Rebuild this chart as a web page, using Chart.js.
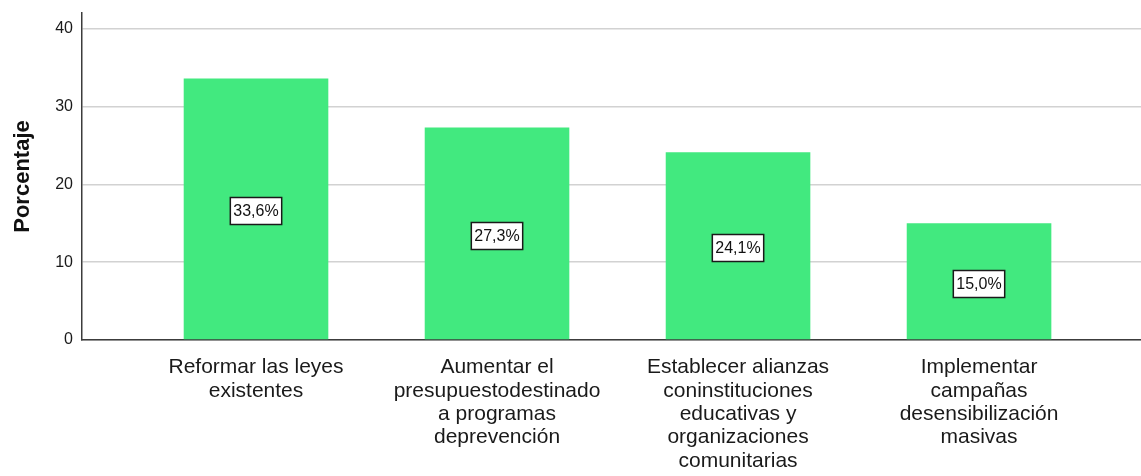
<!DOCTYPE html>
<html>
<head>
<meta charset="utf-8">
<script src="https://cdn.jsdelivr.net/npm/chart.js@4/dist/chart.umd.min.js"></script>
<style>
  html, body { margin:0; padding:0; background:#ffffff; }
  #wrap { width:1141px; height:476px; }
</style>
</head>
<body>
<div id="wrap"><canvas id="barChart" width="1141" height="476"></canvas></div>
<script>
/* ===========================
   DATA
=========================== */

const categories = [
    "Reformar las leyes existentes",
    "Aumentar el presupuestodestinado a programas deprevención",
    "Establecer alianzas coninstituciones educativas y organizaciones comunitarias",
    "Implementar campañas desensibilización masivas"
];

const tickLines = [
    ["Reformar las leyes", "existentes"],
    ["Aumentar el", "presupuestodestinado", "a programas", "deprevención"],
    ["Establecer alianzas", "coninstituciones", "educativas y", "organizaciones", "comunitarias"],
    ["Implementar", "campañas", "desensibilización", "masivas"]
];

const percentages = [33.6, 27.3, 24.1, 15.0];

const yTicks = [0, 10, 20, 30, 40];

/* ===========================
   LABEL BOXES
=========================== */

const boxLabels = {
    id: "boxLabels",
    afterDatasetsDraw(chart){
        const ctx = chart.ctx;
        const meta = chart.getDatasetMeta(0);
        const yScale = chart.scales.y;
        ctx.save();
        ctx.font = "16px Arial, 'Liberation Sans', sans-serif";
        ctx.textAlign = "center";
        ctx.textBaseline = "middle";
        meta.data.forEach((bar, i) => {
            const v = percentages[i];
            const text = v.toFixed(1).replace(".", ",") + "%";
            const w = ctx.measureText(text).width + 6;
            const h = 27;
            const cx = Math.round(bar.x);
            const cy = Math.round(yScale.getPixelForValue(v / 2)) + 2;
            ctx.fillStyle = "#ffffff";
            ctx.fillRect(cx - w / 2, cy - h / 2, w, h);
            ctx.strokeStyle = "#1a1a1a";
            ctx.lineWidth = 1.5;
            ctx.strokeRect(cx - w / 2, cy - h / 2, w, h);
            ctx.fillStyle = "#111111";
            ctx.fillText(text, cx, cy + 1);
        });
        ctx.restore();
    }
};

/* ===========================
   CHART
=========================== */

new Chart(
    document.getElementById("barChart"),
    {
        type: "bar",
        data: {
            datasets: [{
                label: "Porcentaje",
                data: percentages.map((v, i) => ({ x: i, y: v })),
                backgroundColor: "#42e97f",
                borderWidth: 0,
                barPercentage: 0.6,
                categoryPercentage: 1
            }]
        },
        options: {
            responsive: false,
            animation: false,
            layout: { padding: { top: 13, right: 0, left: 0, bottom: 0 } },
            plugins: {
                legend: { display: false },
                tooltip: { enabled: false }
            },
            scales: {
                x: {
                    type: "linear",
                    offset: false,
                    min: -0.722,
                    max: 3.672,
                    afterBuildTicks: axis => {
                        axis.ticks = categories.map((c, i) => ({ value: i }));
                    },
                    afterFit: axis => {
                        axis.height = 136;
                        axis.paddingLeft = 0;
                        axis.paddingRight = 0;
                    },
                    grid: { display: false, drawTicks: false },
                    border: { display: true, color: "#3c3c3c", width: 1.5 },
                    ticks: {
                        autoSkip: false,
                        maxRotation: 0,
                        minRotation: 0,
                        padding: 16,
                        color: "#1a1a1a",
                        font: { family: "Arial, 'Liberation Sans', sans-serif", size: 21, lineHeight: 1.11 },
                        callback: value => tickLines[value]
                    }
                },
                y: {
                    min: 0,
                    max: 42,
                    afterBuildTicks: axis => {
                        axis.ticks = yTicks.map(v => ({ value: v }));
                    },
                    afterFit: axis => {
                        axis.width = 82;
                        axis.paddingTop = 0;
                        axis.paddingBottom = 0;
                    },
                    grid: { color: "#d2d2d2", lineWidth: 1.5, drawTicks: false },
                    border: { display: true, color: "#3c3c3c", width: 1.5 },
                    ticks: {
                        padding: 9,
                        color: "#1a1a1a",
                        font: { family: "Arial, 'Liberation Sans', sans-serif", size: 16 }
                    },
                    title: {
                        display: true,
                        text: "Porcentaje",
                        color: "#111111",
                        padding: { top: 10, bottom: 0 },
                        font: { family: "Arial, 'Liberation Sans', sans-serif", size: 22, weight: "bold" }
                    }
                }
            }
        },
        plugins: [boxLabels]
    }
);
</script>
</body>
</html>
